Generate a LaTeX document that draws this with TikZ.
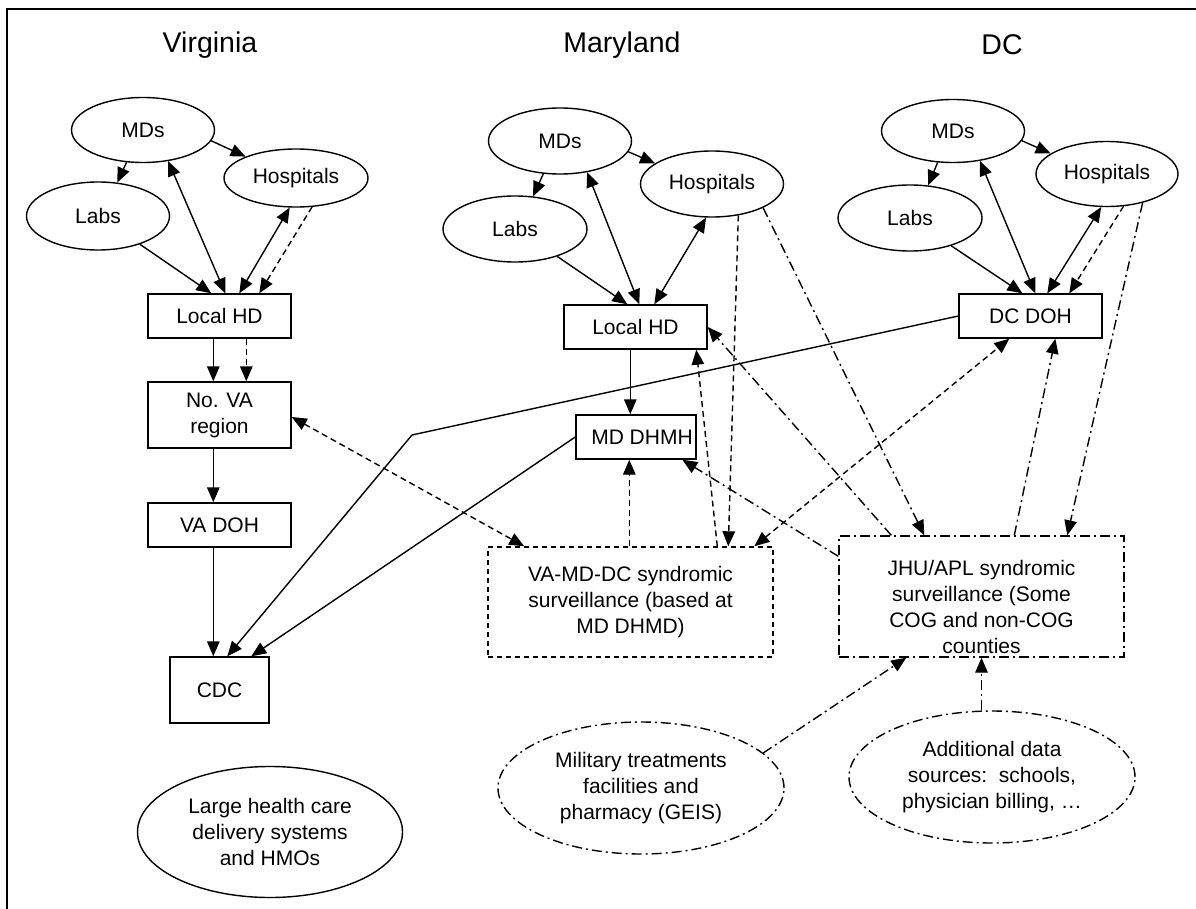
\documentclass[tikz,border=0pt]{standalone}
\usepackage{fontspec}
\setmainfont{Liberation Sans}
\usetikzlibrary{shapes.geometric,arrows.meta,calc}
\begin{document}
\begin{tikzpicture}[x=1pt,y=-1pt,
  every node/.style={font=\fontsize{21}{26}\selectfont, align=center, inner sep=0pt},
  ell/.style={draw, ellipse, line width=1.4pt},
  box/.style={draw, rectangle, line width=1.4pt},
  title/.style={font=\fontsize{28.5}{34}\selectfont},
  conn/.style={line width=1.4pt, -{Triangle[length=15pt,width=12.5pt]}},
  bi/.style={line width=1.4pt, {Triangle[length=15pt,width=12.5pt]}-{Triangle[length=15pt,width=12.5pt]}},
  dsh/.style={dash pattern=on 6pt off 4pt},
  dd/.style={dash pattern=on 10pt off 4pt on 2pt off 4pt},
]
\useasboundingbox (0,0) rectangle (1196,909);
\draw[line width=2pt] (7,909) -- (7,9.5) -- (1196,9.5);

% titles
\node[title] (tva) at (210,45) {Virginia};
\node[title] (tmd) at (622,45) {Maryland};
\node[title] (tdc) at (1002,45) {DC};

% Virginia
\node[ell, minimum width=143pt, minimum height=65pt] (vmd) at (143,130) {MDs};
\node[ell, minimum width=144pt, minimum height=58pt] (vhosp) at (296,178) {Hospitals};
\node[ell, minimum width=143pt, minimum height=68pt] (vlabs) at (98,216) {Labs};
\node[box, minimum width=143pt, minimum height=44pt] (vlhd) at (219.5,316) {Local HD};
\node[box, minimum width=143pt, minimum height=66pt] (vnova) at (219.5,415) {No. VA\\region};
\node[box, minimum width=143pt, minimum height=44pt] (vdoh) at (219.5,525) {VA DOH};
\node[box, minimum width=99pt, minimum height=66pt] (cdc) at (219.5,690) {CDC};
\node[ell, minimum width=265pt, minimum height=131pt] (large) at (270,832) {Large health care\\delivery systems\\and HMOs};

% Maryland
\node[ell, minimum width=143pt, minimum height=66pt] (mmd) at (560,141) {MDs};
\node[ell, minimum width=143pt, minimum height=66pt] (mhosp) at (712,184) {Hospitals};
\node[ell, minimum width=144pt, minimum height=66pt] (mlabs) at (515,229) {Labs};
\node[box, minimum width=143pt, minimum height=44pt] (mlhd) at (635.5,327) {Local HD};
\node[box, minimum width=120pt, minimum height=44pt] (dhmh) at (636,437) {\hspace*{12pt}MD DHMH};
\node[box, dash pattern=on 5pt off 4pt, minimum width=285pt, minimum height=110pt] (vmdc) at (630.5,602) {VA-MD-DC syndromic\\surveillance (based at\\MD DHMD)};

% DC
\node[ell, minimum width=143pt, minimum height=63pt] (dmd) at (953,131) {MDs};
\node[ell, minimum width=142pt, minimum height=65pt] (dhosp) at (1107,174) {Hospitals};
\node[ell, minimum width=144pt, minimum height=66pt] (dlabs) at (910,218) {Labs};
\node[box, minimum width=143pt, minimum height=44pt] (dcdoh) at (1030.5,316) {DC DOH};
\node[box, dd, minimum width=285pt, minimum height=121pt] (jhu) at (981.5,596.5) {};
\node (jhutext) at (981.5,607) {JHU/APL syndromic\\surveillance (Some\\COG and non-COG\\counties};
\node[ell, dd, minimum width=286pt, minimum height=132pt] (mil) at (641,788) {Military treatments\\facilities and\\pharmacy (GEIS)};
\node[ell, dd, minimum width=286pt, minimum height=132pt] (add) at (992,777) {Additional data\\sources:\ \ schools,\\physician billing, \dots};

% Virginia connectors
\draw[conn] (vmd.-117) -- (vlabs.60);
\draw[conn] (vmd.-9) -- (vhosp.157);
\draw[conn] (vlabs.-34) -- ($(vlhd.north west)+(64,0)$);
\draw[bi] ($(vlhd.north west)+(78,0)$) -- (vmd.-51);
\draw[bi] ($(vlhd.north west)+(92,0)$) -- (vhosp.-102);
\draw[conn,dsh] (vhosp.-61) -- ($(vlhd.north west)+(112,0)$);
\draw[conn] ($(vlhd.south west)+(66,0)$) -- ($(vnova.north west)+(66,0)$);
\draw[conn,dsh] ($(vlhd.south west)+(99,0)$) -- ($(vnova.north west)+(99,0)$);
\draw[conn] ($(vnova.south west)+(66,0)$) -- ($(vdoh.north west)+(66,0)$);
\draw[conn] ($(vdoh.south west)+(66,0)$) -- ($(cdc.north west)+(44,0)$);

% Maryland connectors
\draw[conn] (mmd.-117) -- (mlabs.61);
\draw[conn] (mmd.-9) -- (mhosp.160);
\draw[conn] (mlabs.-33) -- ($(mlhd.north west)+(64,0)$);
\draw[bi] ($(mlhd.north west)+(76,0)$) -- (mmd.-49);
\draw[bi] ($(mlhd.north west)+(91,0)$) -- (mhosp.-100);
\draw[conn,dsh] (mhosp.-50) -- ($(vmdc.north west)+(241,0)$);
\draw[conn,dsh] ($(vmdc.north west)+(230,0)$) -- ($(mlhd.south west)+(133,0)$);
\draw[conn,dsh] ($(vmdc.north west)+(142,0)$) -- ($(dhmh.south west)+(54,0)$);
\draw[conn] ($(mlhd.south west)+(67,0)$) -- ($(dhmh.north west)+(55,0)$);
\draw[conn,dd] (mhosp.-25) -- ($(jhu.north west)+(86,0)$);
\draw[conn,dd] ($(jhu.north west)+(53,0)$) -- (mlhd.east);
\draw[conn,dd] ($(jhu.north west)+(0,21)$) -- ($(dhmh.south west)+(107,0)$);

% cross connectors
\draw[bi,dsh] ($(vnova.east)+(0,2)$) -- ($(vmdc.north west)+(37,0)$);
\draw[bi,dsh] ($(vmdc.north west)+(267,0)$) -- ($(dcdoh.south west)+(51,0)$);
\coordinate (bend) at (412,435);
\draw[conn] (dcdoh.west) -- (bend) -- ($(cdc.north west)+(58,0)$);
\draw[conn] (dhmh.west) -- ($(cdc.north west)+(82,0)$);

% DC connectors
\draw[conn] (dmd.-116) -- (dlabs.61);
\draw[conn] (dmd.-8) -- (dhosp.160);
\draw[conn] (dlabs.-34) -- ($(dcdoh.north west)+(64,0)$);
\draw[bi] ($(dcdoh.north west)+(77,0)$) -- (dmd.-48);
\draw[bi] ($(dcdoh.north west)+(89,0)$) -- (dhosp.-100);
\draw[conn,dsh] (dhosp.-63) -- ($(dcdoh.north west)+(111,0)$);
\draw[conn,dd] (dhosp.-39) -- ($(jhu.north west)+(229,0)$);
\draw[conn,dd] ($(jhu.north west)+(176,0)$) -- ($(dcdoh.south west)+(97,0)$);
\draw[conn,dd] (mil.16) -- ($(jhu.south west)+(68,0)$);
\draw[conn,dd] (jhu.south |- add.north) -- (jhu.south);
\end{tikzpicture}
\end{document}
